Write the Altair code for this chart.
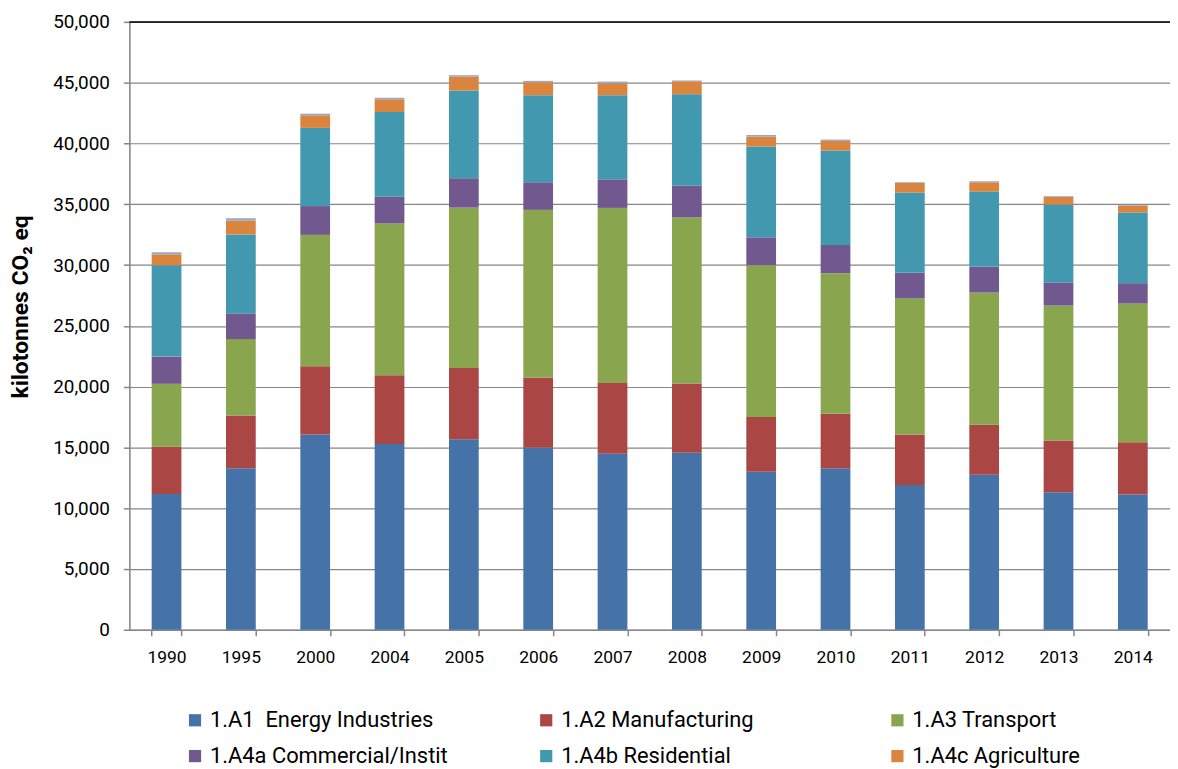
import altair as alt
import pandas as pd

years = ["1990", "1995", "2000", "2004", "2005", "2006", "2007",
         "2008", "2009", "2010", "2011", "2012", "2013", "2014"]

series = ["1.A1\u00a0 Energy Industries", "1.A2 Manufacturing", "1.A3 Transport",
          "1.A4a Commercial/Instit", "1.A4b Residential", "1.A4c Agriculture",
          "1.A5 Other"]

a1 = [11160, 13290, 16070, 15280, 15680, 14970, 14480, 14560, 13000, 13280, 11910, 12760, 11310, 11120]
a2 = [3900, 4330, 5610, 5660, 5860, 5770, 5810, 5690, 4500, 4490, 4150, 4110, 4260, 4310]
a3 = [5170, 6290, 10800, 12480, 13180, 13800, 14410, 13660, 12490, 11560, 11200, 10860, 11090, 11400]
a4a = [2240, 2090, 2370, 2200, 2420, 2270, 2350, 2620, 2290, 2320, 2100, 2120, 1910, 1680]
a4b = [7510, 6520, 6430, 6970, 7220, 7160, 6920, 7520, 7470, 7770, 6600, 6190, 6410, 5810]
a4c = [900, 1140, 1040, 1040, 1150, 1070, 980, 1070, 820, 790, 790, 770, 630, 570]
a5 = [170, 190, 130, 130, 110, 110, 140, 60, 130, 110, 60, 80, 60, 60]

colors = ["#4572A7", "#AA4643", "#89A54E", "#71588F", "#4198AF", "#DB843D", "#93A9CF"]

rows = []
for k, (name, vals) in enumerate(zip(series, [a1, a2, a3, a4a, a4b, a4c, a5])):
    for yr, v in zip(years, vals):
        rows.append({"year": yr, "series": name, "value": v, "k": k})
df = pd.DataFrame(rows)

FONT = "Roboto"
GRID = "#868686"

bars = alt.Chart(df).mark_bar().encode(
    x=alt.X("year:N", sort=years,
            scale=alt.Scale(paddingInner=0.6, paddingOuter=0.3),
            axis=alt.Axis(title=None, labelAngle=0, tickBand="extent",
                          domainColor=GRID, domainWidth=1.5,
                          tickColor=GRID, tickWidth=1.5, tickSize=6,
                          labelFont=FONT, labelFontSize=17.5, labelColor="#000000",
                          labelPadding=13)),
    y=alt.Y("value:Q", stack="zero",
            scale=alt.Scale(domain=[0, 50000], nice=False),
            axis=alt.Axis(title="kilotonnes CO\u2082 eq",
                          values=list(range(0, 50001, 5000)), format=",d",
                          grid=True, gridColor=GRID, gridWidth=1.2,
                          domainColor=GRID, domainWidth=1.5,
                          tickColor=GRID, tickWidth=1.5, tickSize=6,
                          labelFont=FONT, labelFontSize=19, labelColor="#000000",
                          labelPadding=14,
                          titleFont=FONT, titleFontSize=23, titleFontWeight="bold",
                          titleColor="#000000", titleAngle=270,
                          titleX=-109, titleY=286, titleBaseline="middle",
                          titleAlign="center")),
    color=alt.Color("series:N",
                    scale=alt.Scale(domain=series, range=colors),
                    legend=alt.Legend(title=None, values=series[:6], orient="none",
                                      legendX=55, legendY=691, direction="horizontal",
                                      columns=3, gridAlign="all", columnPadding=87,
                                      rowPadding=14, symbolType="square",
                                      symbolSize=150, symbolStrokeWidth=0,
                                      labelFont=FONT, labelFontSize=22,
                                      labelColor="#000000", labelOffset=4,
                                      labelLimit=400, padding=0)),
    order=alt.Order("k:Q", sort="ascending"),
)

top = alt.Chart(pd.DataFrame({"v": [50000]})).mark_rule(
    color="#000000", strokeWidth=1.5).encode(y=alt.datum(50000))

chart = alt.layer(bars, top).properties(
    width=1046, height=611,
    autosize=alt.AutoSizeParams(type="none"),
    padding={"left": 122, "top": 12, "right": 0, "bottom": 137},
).configure_view(stroke=None).configure(background="#ffffff")

chart.save("out.html", embed_options={"renderer": "svg", "actions": False})
